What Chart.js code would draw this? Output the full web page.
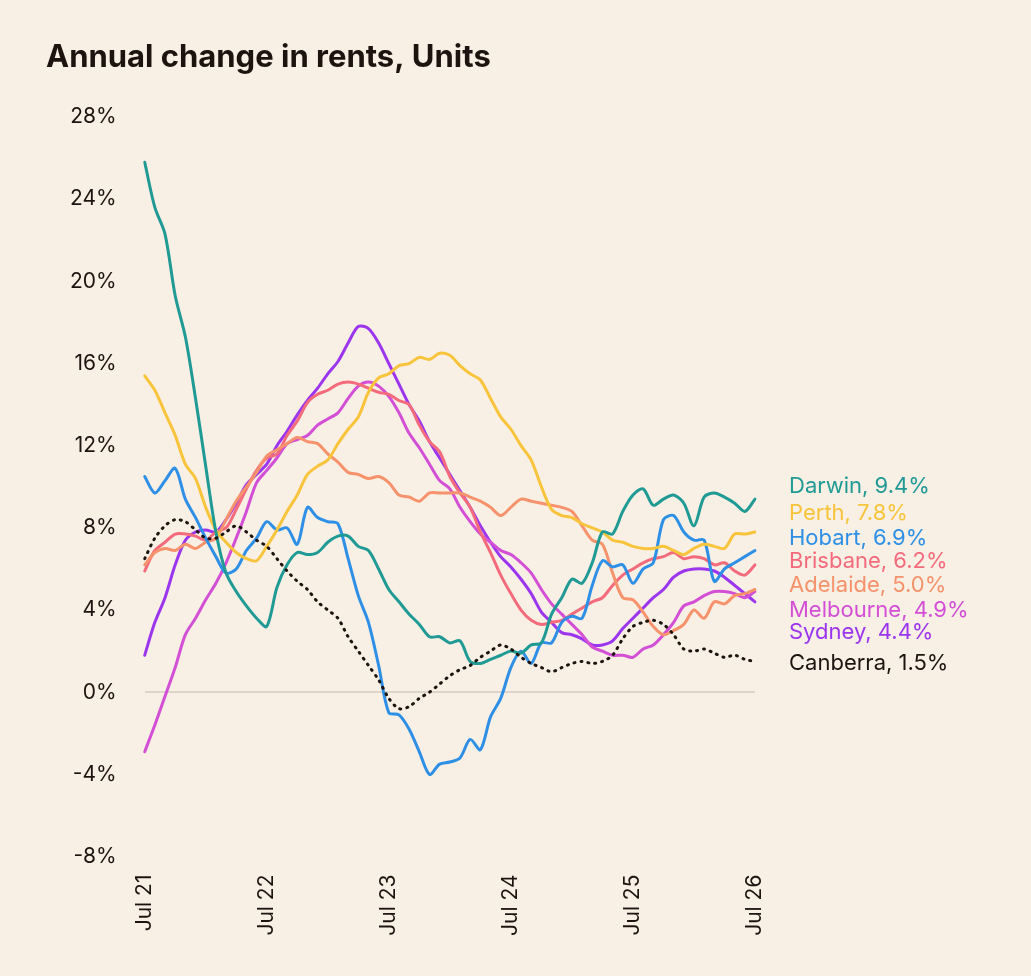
<!DOCTYPE html>
<html>
<head>
<meta charset="utf-8">
<script src="https://cdn.jsdelivr.net/npm/chart.js@4/dist/chart.umd.min.js"></script>
<style>
  html, body { margin: 0; padding: 0; background: #f8efe5; }
  #wrap { width: 1031px; height: 976px; }
</style>
</head>
<body>
<div id="wrap"><canvas id="myChart" width="1031" height="976"></canvas></div>
<script>
// Monthly labels Jul 21 .. Jul 26
var months = ['Jan','Feb','Mar','Apr','May','Jun','Jul','Aug','Sep','Oct','Nov','Dec'];
var labels = [];
for (var i = 0; i < 61; i++) {
    var m = (6 + i) % 12;
    var y = 21 + Math.floor((6 + i) / 12);
    labels.push(months[m] + ' ' + y);
}
var yTicks = [-8, -4, 0, 4, 8, 12, 16, 20, 24, 28];

var darwin = [25.8,23.6,22.3,19.3,17.3,14.3,11.0,7.8,5.8,4.9,4.2,3.6,3.2,
    5.1,6.2,6.8,6.7,6.8,7.3,7.6,7.6,7.1,6.9,6.0,5.0,
    4.4,3.8,3.3,2.7,2.7,2.4,2.5,1.5,1.4,1.6,1.8,2.0,
    1.9,2.3,2.4,3.8,4.6,5.5,5.3,6.3,7.8,7.7,8.8,9.6,
    9.9,9.1,9.4,9.6,9.2,8.1,9.5,9.7,9.5,9.2,8.8,9.4];
var perth = [15.4,14.7,13.6,12.5,11.1,10.4,9.0,7.9,7.3,6.8,6.5,6.4,7.1,
    7.9,8.8,9.6,10.6,11.0,11.3,12.1,12.8,13.4,14.6,15.3,15.5,
    15.9,16.0,16.3,16.2,16.5,16.4,15.9,15.5,15.2,14.3,13.4,12.8,
    12.0,11.3,10.0,8.9,8.6,8.5,8.2,8.0,7.8,7.4,7.3,7.1,
    7.0,7.0,7.1,6.9,6.7,7.0,7.2,7.1,7.0,7.7,7.7,7.8];
var hobart = [10.5,9.7,10.3,10.9,9.4,8.5,7.5,6.6,5.8,6.0,6.9,7.5,8.3,
    7.9,8.0,7.2,9.0,8.5,8.3,8.2,6.5,4.7,3.4,1.3,-1.0,
    -1.1,-1.8,-2.9,-4.0,-3.5,-3.4,-3.2,-2.3,-2.8,-1.2,-0.3,1.2,
    2.0,1.4,2.4,2.4,3.4,3.7,3.6,5.2,6.4,6.1,6.2,5.3,
    6.0,6.3,8.4,8.6,7.8,7.4,7.4,5.4,6.0,6.3,6.6,6.9];
var brisbane = [5.9,6.9,7.3,7.7,7.7,7.6,7.4,7.8,8.0,8.9,9.9,10.8,11.4,
    11.6,12.5,13.2,14.1,14.5,14.7,15.0,15.1,15.0,14.8,14.6,14.5,
    14.2,14.0,13.0,12.2,11.7,10.5,9.7,9.0,7.8,6.8,5.7,4.8,
    4.0,3.5,3.3,3.4,3.5,3.8,4.1,4.4,4.6,5.2,5.7,6.0,
    6.3,6.5,6.6,6.8,6.5,6.6,6.5,6.2,6.3,5.9,5.7,6.2];
var adelaide = [6.2,6.8,7.0,6.9,7.2,7.0,7.3,7.5,8.4,9.3,10.0,10.7,11.5,
    11.8,12.1,12.4,12.2,12.1,11.6,11.2,10.7,10.6,10.4,10.5,10.2,
    9.6,9.5,9.3,9.7,9.7,9.7,9.7,9.5,9.3,9.0,8.6,9.0,
    9.4,9.3,9.2,9.1,9.0,8.8,8.1,7.4,7.2,5.8,4.6,4.5,
    3.9,3.2,2.8,3.0,3.3,4.0,3.6,4.4,4.3,4.7,4.8,5.0];
var melbourne = [-2.9,-1.6,-0.2,1.2,2.8,3.6,4.5,5.3,6.3,7.5,8.8,10.2,10.8,
    11.4,12.1,12.3,12.5,13.0,13.3,13.6,14.3,14.9,15.1,14.9,14.4,
    13.6,12.6,11.9,11.1,10.3,9.9,9.0,8.3,7.7,7.3,6.9,6.7,
    6.3,5.8,5.0,4.3,3.8,3.3,2.8,2.2,2.0,1.8,1.8,1.7,
    2.1,2.3,2.8,3.4,4.2,4.4,4.7,4.9,4.9,4.8,4.6,4.9];
var sydney = [1.8,3.4,4.6,6.2,7.4,7.8,7.9,7.8,8.4,9.2,10.1,10.6,11.1,
    12.0,12.7,13.5,14.2,14.8,15.5,16.1,17.0,17.8,17.7,17.0,16.0,
    15.0,14.0,13.2,12.2,11.4,10.6,9.8,9.0,8.1,7.3,6.6,6.1,
    5.5,4.8,3.9,3.4,2.9,2.8,2.6,2.3,2.3,2.5,3.1,3.6,
    4.1,4.6,5.0,5.6,5.9,6.0,6.0,5.9,5.6,5.2,4.8,4.4];
var canberra = [6.5,7.5,8.1,8.4,8.3,7.9,7.5,7.5,7.8,8.1,7.8,7.4,7.1,
    6.5,5.9,5.4,5.0,4.4,4.0,3.6,2.7,2.0,1.3,0.6,-0.3,
    -0.8,-0.7,-0.3,0.0,0.4,0.8,1.1,1.3,1.7,2.0,2.3,2.1,
    1.7,1.4,1.2,1.0,1.2,1.4,1.5,1.4,1.5,1.8,2.6,3.2,
    3.4,3.5,3.3,2.8,2.1,2.0,2.1,1.9,1.7,1.8,1.6,1.5];

// right-hand labels: text, colour, value position of label
var endLabels = [
    ['Darwin, 9.4%', '#1f9a95', 10.0],
    ['Perth, 7.8%', '#f8c43c', 8.7],
    ['Hobart, 6.9%', '#2d8fe6', 7.5],
    ['Brisbane, 6.2%', '#f46b7c', 6.35],
    ['Adelaide, 5.0%', '#f6926c', 5.2],
    ['Melbourne, 4.9%', '#d34fd6', 4.0],
    ['Sydney, 4.4%', '#9c35ee', 2.9],
    ['Canberra, 1.5%', '#1d1410', 1.4]
];

function line(label, data, color, dash) {
    return {
        label: label, data: data, borderColor: color, borderWidth: 3,
        pointRadius: 0, tension: 0.3, fill: false,
        borderDash: dash || [], borderCapStyle: 'round'
    };
}

var extras = {
    id: 'extras',
    afterDraw: function (chart) {
        var c = chart.ctx, ys = chart.scales.y;
        c.save();
        c.fillStyle = '#1d1410';
        c.font = 'bold 31px Inter, "Noto Sans", sans-serif';
        c.textBaseline = 'middle';
        c.fillText('Annual change in rents, Units', 46, 58);
        c.font = '22px Inter, "Noto Sans", sans-serif';
        endLabels.forEach(function (l) {
            c.fillStyle = l[1];
            c.fillText(l[0], 789, ys.getPixelForValue(l[2]));
        });
        c.restore();
    }
};

var ctx = document.getElementById('myChart').getContext('2d');
var myChart = new Chart(ctx, {
    type: 'line',
    data: {
        labels: labels,
        datasets: [
            line('Canberra', canberra, '#1d1410', [1, 6]),
            line('Darwin', darwin, '#1f9a95'),
            line('Perth', perth, '#f8c43c'),
            line('Hobart', hobart, '#2d8fe6'),
            line('Adelaide', adelaide, '#f6926c'),
            line('Brisbane', brisbane, '#f46b7c'),
            line('Melbourne', melbourne, '#d34fd6'),
            line('Sydney', sydney, '#9c35ee')
        ]
    },
    plugins: [extras],
    options: {
        responsive: false,
        animation: false,
        layout: { padding: { top: 117, right: 276, bottom: 30, left: 42 } },
        plugins: { legend: { display: false }, tooltip: { enabled: false } },
        scales: {
            x: {
                grid: { display: false },
                border: { display: false },
                ticks: {
                    autoSkip: false, maxRotation: 90, minRotation: 90, padding: 10,
                    color: '#1d1410', font: { size: 21, family: 'Inter, "Noto Sans", sans-serif' },
                    callback: function (v, i) { return i % 12 === 0 ? labels[i] : ''; }
                }
            },
            y: {
                min: -8, max: 28,
                afterBuildTicks: function (s) { s.ticks = yTicks.map(function (v) { return { value: v }; }); },
                border: { display: false },
                grid: {
                    drawTicks: false, lineWidth: 2,
                    color: function (c) { return c.tick && c.tick.value === 0 ? '#ddd5cc' : 'rgba(0,0,0,0)'; }
                },
                ticks: {
                    padding: 28, color: '#1d1410',
                    font: { size: 21, family: 'Inter, "Noto Sans", sans-serif' },
                    callback: function (v) { return v + '%'; }
                }
            }
        }
    }
});
</script>
</body>
</html>
